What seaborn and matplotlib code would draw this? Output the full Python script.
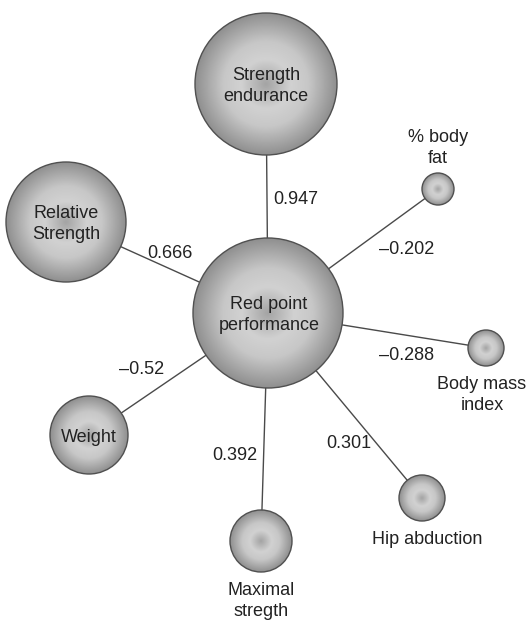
import numpy as np
import pandas as pd
import matplotlib
matplotlib.use("Agg")
import matplotlib.pyplot as plt
import seaborn as sns
from matplotlib.patches import Circle

# ---------------- data ----------------
hub_name = "Red point\nperformance"
node_names = ["Strength\nendurance", "Relative\nStrength", "% body\nfat",
              "Body mass\nindex", "Weight", "Maximal\nstregth", "Hip abduction"]
correlations = [0.947, 0.666, -0.202, -0.288, -0.52, 0.392, 0.301]
corr_text = ["0.947", "0.666", "\u20130.202", "\u20130.288", "\u20130.52", "0.392", "0.301"]

# ---------------- layout (pixel coords, y down) ----------------
hub_xy = (268, 313)
hub_r = 75
node_x = [266, 66, 438, 486, 89, 261, 422]
node_y = [84, 222, 189, 348, 435, 541, 498]
node_r = [71, 60, 16, 18, 39, 31, 23]
# where the node name goes: inside, above or below the circle
name_pos = ["in", "in", "above", "below", "in", "below", "below"]
name_dx = [0, 0, 0, -4, 0, 0, 5]
corr_x = [296, 170, 407, 407, 142, 235, 349]
corr_y = [199, 254, 249, 356, 369, 456, 443]

sns.set_theme(style="white")
plt.rcParams["font.family"] = ["Liberation Sans", "DejaVu Sans"]

FS = 13
LS = 1.3
TXT = "#222222"

fig = plt.figure(figsize=(5.29, 6.27), dpi=100)
ax = fig.add_axes([0, 0, 1, 1])

# edges
edges = []
for i, name in enumerate(node_names):
    edges.append({"edge": i, "x": hub_xy[0], "y": hub_xy[1]})
    edges.append({"edge": i, "x": node_x[i], "y": node_y[i]})
edges = pd.DataFrame(edges)
sns.lineplot(data=edges, x="x", y="y", units="edge", estimator=None, sort=False,
             color="#4a4a4a", linewidth=1.0, ax=ax, legend=False, zorder=1)

# radial shading profile
stops = [0.0, 0.35, 0.6, 1.0]
shades = [0.64, 0.82, 0.78, 0.56]
grid = np.linspace(-1, 1, 300)
gx, gy = np.meshgrid(grid, grid)
rad = np.sqrt(gx ** 2 + gy ** 2)
shade_img = np.interp(rad, stops, shades)


def draw_ball(x, y, r):
    circ = Circle((x, y), r, facecolor="none", edgecolor="#505050", linewidth=1.0, zorder=3)
    ax.add_patch(circ)
    im = ax.imshow(shade_img, cmap="gray", vmin=0, vmax=1,
                   extent=(x - r, x + r, y + r, y - r), zorder=2, interpolation="bilinear")
    im.set_clip_path(circ)


draw_ball(hub_xy[0], hub_xy[1], hub_r)
ax.text(hub_xy[0] + 1, hub_xy[1] + 2, hub_name, ha="center", va="center",
        fontsize=FS, color=TXT, linespacing=LS, zorder=4)

for i, name in enumerate(node_names):
    draw_ball(node_x[i], node_y[i], node_r[i])
    tx = node_x[i] + name_dx[i]
    if name_pos[i] == "in":
        ax.text(tx, node_y[i] + 2, name, ha="center", va="center",
                fontsize=FS, color=TXT, linespacing=LS, zorder=4)
    elif name_pos[i] == "above":
        ax.text(tx, node_y[i] - node_r[i] - 6, name, ha="center", va="bottom",
                fontsize=FS, color=TXT, linespacing=LS, zorder=4)
    else:
        ax.text(tx, node_y[i] + node_r[i] + 10, name, ha="center", va="top",
                fontsize=FS, color=TXT, linespacing=LS, zorder=4)
    ax.text(corr_x[i], corr_y[i], corr_text[i], ha="center", va="center",
            fontsize=FS, color=TXT, zorder=4)

ax.set_xlim(0, 529)
ax.set_ylim(627, 0)
ax.set_aspect("equal")
ax.axis("off")

fig.savefig("out.png", dpi=100, facecolor="white")
